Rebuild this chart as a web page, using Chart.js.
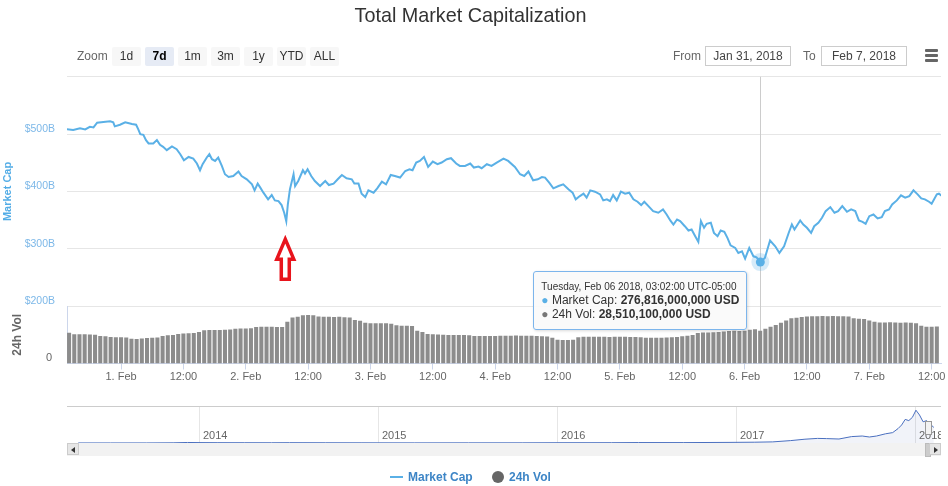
<!DOCTYPE html>
<html>
<head>
<meta charset="utf-8">
<script src="https://cdn.jsdelivr.net/npm/chart.js@4.4.1/dist/chart.umd.min.js"></script>
<style>
  body { margin: 0; background: #fff; font-family: "Liberation Sans", Arial, sans-serif; }
  #wrap { position: relative; width: 948px; height: 486px; overflow: hidden; }
  #main { position: absolute; left: 0; top: 0; }
  #navbox { position: absolute; left: 67px; top: 406px; width: 874px; height: 37px; border-top: 1px solid #cccccc; }
  #nav { position: absolute; left: 0; top: 0; }
  .zoomlbl { position: absolute; left: 77px; top: 48px; font-size: 12px; color: #666; line-height: 16px; }
  .btn { position: absolute; top: 47px; width: 29px; height: 19px; line-height: 19px; font-size: 12px;
         color: #333; background: #f7f7f7; text-align: center; border-radius: 2px; }
  .btn.on { background: #e6ebf5; color: #000; font-weight: bold; }
  .rlbl { position: absolute; top: 48px; font-size: 12px; color: #666; line-height: 16px; }
  .date { position: absolute; top: 46px; width: 84px; height: 18px; line-height: 18px; border: 1px solid #cccccc;
          font-size: 12px; color: #444; text-align: center; }
  .burger { position: absolute; left: 925px; width: 13px; height: 3px; background: #666; border-radius: 1px; }
  #scroll { position: absolute; left: 67px; top: 443px; width: 874px; height: 13px; background: #f2f2f2; }
  .sbtn { position: absolute; top: 0; width: 12px; height: 12px; background: #e6e6e6; border: 1px solid #cccccc; box-sizing: border-box; }
  .sbtn i { position: absolute; top: 3px; width: 0; height: 0; border-top: 3px solid transparent; border-bottom: 3px solid transparent; }
  #thumb { position: absolute; left: 858px; top: 0; width: 4px; height: 12px; background: #cccccc; border: 1px solid #bbb; }
  #handle { position: absolute; left: 858px; top: 14px; width: 7px; height: 14px; background: #f2f2f2; border: 1px solid #999; box-sizing: border-box; }
  #legend { position: absolute; top: 469px; left: 0; width: 948px; height: 16px; font-size: 12px; font-weight: bold; color: #3d85c6; }
  #tip { position: absolute; display: none; background: rgba(250,250,250,0.9); border: 1px solid #7cb5ec; border-radius: 3px;
         padding: 8px 7px; box-shadow: 1px 1px 3px rgba(0,0,0,0.15); color: #333; white-space: nowrap; }
  #tip .hd { font-size: 10px; line-height: 13px; }
  #tip .row { font-size: 12px; line-height: 14px; }
</style>
</head>
<body>
<div id="wrap">
  <canvas id="main" width="948" height="486"></canvas>

  <div class="zoomlbl">Zoom</div>
  <div class="btn" style="left:112px">1d</div>
  <div class="btn on" style="left:145px">7d</div>
  <div class="btn" style="left:178px">1m</div>
  <div class="btn" style="left:211px">3m</div>
  <div class="btn" style="left:244px">1y</div>
  <div class="btn" style="left:277px">YTD</div>
  <div class="btn" style="left:310px">ALL</div>

  <div class="rlbl" style="left:673px">From</div>
  <div class="date" style="left:705px">Jan 31, 2018</div>
  <div class="rlbl" style="left:803px">To</div>
  <div class="date" style="left:821px">Feb 7, 2018</div>
  <div class="burger" style="top:49px"></div>
  <div class="burger" style="top:54px"></div>
  <div class="burger" style="top:59px"></div>

  <div id="navbox">
    <canvas id="nav" width="874" height="37"></canvas>
    <div id="handle"></div>
  </div>
  <div id="scroll">
    <div class="sbtn" style="left:0"><i style="left:3px;border-right:4px solid #333"></i></div>
    <div id="thumb"></div>
    <div class="sbtn" style="right:0"><i style="left:4px;border-left:4px solid #333"></i></div>
  </div>

  <div id="legend">
    <span style="position:absolute;left:390px;top:7px;width:13px;height:2px;background:#5ab0e6"></span>
    <span style="position:absolute;left:408px;top:0;line-height:16px">Market Cap</span>
    <span style="position:absolute;left:492px;top:2px;width:12px;height:12px;border-radius:6px;background:#666"></span>
    <span style="position:absolute;left:509px;top:0;line-height:16px">24h Vol</span>
  </div>

  <div id="tip"></div>
</div>

<script>
// market cap, billions USD; hours counted from Jan 31 2018 00:00 (UTC-05:00)
const capHours = [13.5,14.8,16.1,17.1,18.0,18.7,19.4,20.6,21.9,22.5,
  22.8,23.8,24.8,26.1,26.9,27.3,27.7,28.3,28.8,29.3,
  30.2,30.9,31.5,32.1,32.8,33.8,34.7,35.4,36.1,37.0,
  37.9,38.6,39.2,39.7,40.5,41.0,41.5,42.1,42.7,43.4,
  44.0,44.7,45.6,46.6,47.2,48.2,49.2,49.7,50.3,50.8,
  51.4,52.3,53.0,53.6,54.3,54.9,55.4,55.8,56.1,56.5,
  57.2,57.5,58.1,59.0,59.4,59.9,60.6,61.3,62.3,63.3,
  64.0,64.9,65.7,66.5,67.4,68.4,68.9,69.7,70.3,71.0,
  71.6,72.6,73.3,74.2,75.0,75.9,76.7,77.7,78.7,79.5,
  80.1,80.8,81.5,82.3,83.1,84.0,84.9,85.7,86.7,87.5,
  88.5,89.2,90.2,91.2,91.9,92.8,93.4,94.4,95.3,96.3,
  97.6,98.5,99.8,100.8,101.6,102.4,103.3,104.2,105.0,105.6,
  106.4,107.2,108.2,109.1,110.1,110.9,111.5,112.3,113.0,113.6,
  114.3,115.2,116.2,116.8,117.5,118.1,118.7,119.4,120.2,121.0,
  121.8,122.6,123.4,124.1,124.7,125.5,126.4,127.4,128.3,129.0,
  129.7,130.3,131.0,131.6,132.5,133.2,133.8,134.5,135.1,135.6,
  136.2,136.7,137.5,138.1,138.8,139.4,140.1,140.7,141.3,142.2,
  142.8,143.5,144.1,144.9,145.7,146.3,147.0333,147.9,148.9,149.9,
  150.7,151.6,152.5,153.1,153.6,154.0,154.7,155.3,156.0,156.8,
  157.4,158.2,158.9,159.6,160.5,161.3,162.0,162.8,163.7,164.5,
  165.3,166.0,166.7,167.3,168.0,168.8,169.6,170.4,171.0,171.8,
  172.4,173.3,174.1,174.9,175.7,176.5,177.3,178.0,178.7,179.5,
  180.0,181.0,181.4,182.0];
const capValues = [508.8,507.0,510.0,508.2,512.8,511.7,519.8,521.0,522.2,520.5,
  513.5,516.3,520.5,517.5,516.3,508.8,500.0,498.8,489.5,483.7,
  483.7,489.5,481.3,477.8,472.0,478.5,473.7,465.0,454.5,460.2,
  457.4,448.7,437.0,447.5,459.2,465.0,456.2,453.2,459.2,444.5,
  430.0,425.2,427.0,434.7,427.0,421.2,412.4,401.9,413.7,406.7,
  397.9,386.2,393.7,384.4,383.2,376.2,362.9,348.2,377.4,403.7,
  430.0,409.5,418.2,437.0,431.2,438.7,427.0,418.2,409.5,418.2,
  411.2,413.7,421.2,428.7,422.9,421.2,413.7,413.7,396.1,390.2,
  401.9,397.9,405.4,417.2,412.4,428.7,427.0,424.2,435.7,438.7,
  437.0,450.4,453.2,460.2,442.7,452.2,447.5,450.4,456.2,458.0,
  448.7,444.5,444.5,448.7,441.7,443.4,440.5,447.5,444.5,450.4,
  457.4,453.2,442.7,430.0,427.0,434.7,419.4,421.2,425.2,424.2,
  415.4,405.4,409.5,412.4,403.7,397.9,386.2,392.0,396.1,389.1,
  401.9,399.6,394.9,384.4,386.2,383.2,393.7,384.4,399.6,396.1,
  397.9,386.2,382.1,376.2,382.1,374.4,365.7,362.9,368.7,359.9,
  349.4,342.4,351.1,348.2,339.4,331.9,333.6,321.9,312.1,348.2,
  336.6,343.6,345.4,327.8,321.9,331.9,329.6,319.1,306.1,301.6,
  292.8,295.6,282.8,301.6,286.9,285.1,276.816,284.1,314.4,304.4,
  292.8,304.4,328.0,342.4,333.6,339.4,349.4,342.4,336.6,327.8,
  339.4,345.4,354.1,365.7,372.7,362.9,365.7,374.4,364.6,368.7,
  365.7,349.4,347.1,343.6,356.9,359.9,352.9,355.2,365.7,368.7,
  377.4,384.4,393.2,389.1,391.9,401.9,394.9,387.9,386.2,382.1,
  378.6,394.9,396.1,391.9];

// 24h volume, billions USD, one bar per hour from hour 14
const volStartHour = 14;
const volValues = [26.8,
  25.6,25.4,25.4,25.2,25.0, 24.0,23.8, 23.0,22.8,22.8,22.6, 21.6,21.3,
  21.8,22.2,22.4,22.6, 24.0,24.6,24.8, 25.8,26.2,26.3,26.5,27.5,
  29.0,29.1,29.1,29.3,29.5,29.6, 30.4,30.6,30.6,30.8, 31.8,32.0,32.0,32.0,31.8,31.8,
  36.3, 40.2,40.7, 42.0,42.2,42.0, 41.0,40.7,40.7,40.5,40.7,40.4,40.0, 38.0,37.2,
  35.5,35.0,35.0,35.2,35.0,34.6, 33.4,33.0,32.9,32.6, 28.5,27.5, 25.8,25.4,25.2,
  25.0,24.8,24.8,24.9,24.8,24.6, 24.0,23.9,23.9,24.0,24.0,
  24.2,24.3,24.2,24.4,24.3,24.2,24.2,24.0,23.8,23.5,22.5, 20.8,20.4,20.4,20.6,
  22.8,23.3,23.3,23.4,23.3,23.3,23.2,23.3,23.4,23.3,23.2,23.0,22.8,
  22.5,22.4,22.4,22.5,22.6,22.8,23.2,23.8,24.3,24.8, 26.5,27.0,27.1,27.2,27.4,
  28.0,28.3,28.5,28.3,28.6, 29.5,29.8,28.5101,30.2, 32.0,33.5,35.5,37.5, 39.5,39.8,
  40.5,41.0,41.3,41.3,41.4,41.3,41.5,41.3,41.2,41.0, 39.5,39.0,38.7, 37.5,36.5,
  35.8,35.8,36.0,35.8,35.6,35.8,35.5,35.2, 33.0,32.0,32.0,32.2];

const xTickHours = [24, 36, 48, 60, 72, 84, 96, 108, 120, 132, 144, 156, 168, 180];
const xTickLabels = ['1. Feb', '12:00', '2. Feb', '12:00', '3. Feb', '12:00', '4. Feb',
  '12:00', '5. Feb', '12:00', '6. Feb', '12:00', '7. Feb', '12:00'];
const capTicks = [200, 300, 400, 500, 600];
const capTickLabels = ['$200B', '$300B', '$400B', '$500B', ''];

// navigator: whole history, billions USD by year
const navYears = [2013.32, 2013.5, 2013.7, 2013.85, 2013.93, 2014.0, 2014.1, 2014.25, 2014.4, 2014.5,
  2014.7, 2014.9, 2015.0, 2015.2, 2015.5, 2015.8, 2016.0, 2016.3, 2016.45, 2016.7,
  2016.95, 2017.1, 2017.2, 2017.3, 2017.38, 2017.45, 2017.5, 2017.57, 2017.64, 2017.7,
  2017.74, 2017.78, 2017.83, 2017.87, 2017.9, 2017.92, 2017.94, 2017.96, 2017.98, 2018.0,
  2018.02, 2018.04, 2018.06, 2018.08, 2018.1];
const navCaps = [1.5, 1.2, 1.6, 5, 13, 10, 8, 7, 6, 8,
  6, 5, 4, 3.5, 4, 4.5, 7, 7.5, 11, 10,
  15, 20, 28, 60, 95, 115, 110, 100, 160, 175,
  150, 175, 230, 260, 360, 450, 590, 560, 640, 820,
  700, 530, 560, 470, 390];
const navYearTicks = [2014, 2015, 2016, 2017, 2018];

const hoverHour = 147.0333;
const dipHour = 55.8;

Chart.defaults.font.family = '"Liberation Sans", Arial, sans-serif';
const capColor = '#5ab0e6';

const crosshair = {
  id: 'crosshair',
  beforeDatasetsDraw(chart) {
    const act = chart.getActiveElements();
    if (!act.length) return;
    const x = Math.round(act[0].element.x) + 0.5;
    const ctx = chart.ctx;
    ctx.save();
    ctx.strokeStyle = '#cccccc';
    ctx.lineWidth = 1;
    ctx.beginPath();
    ctx.moveTo(x, chart.chartArea.top);
    ctx.lineTo(x, chart.chartArea.bottom);
    ctx.stroke();
    ctx.restore();
  }
};

// red outlined arrow pointing at the dip
const arrow = {
  id: 'arrow',
  afterDatasetsDraw(chart) {
    const i = capHours.indexOf(dipHour);
    const x = chart.scales.x.getPixelForValue(dipHour) - 1;
    const y = chart.scales.yCap.getPixelForValue(capValues[i]) + 18;
    const ctx = chart.ctx;
    ctx.save();
    ctx.beginPath();
    ctx.moveTo(x, y);
    ctx.lineTo(x + 8.5, y + 20);
    ctx.lineTo(x + 4, y + 20);
    ctx.lineTo(x + 4, y + 40);
    ctx.lineTo(x - 4, y + 40);
    ctx.lineTo(x - 4, y + 20);
    ctx.lineTo(x - 8.5, y + 20);
    ctx.closePath();
    ctx.fillStyle = '#ffffff';
    ctx.fill();
    ctx.strokeStyle = '#e8141c';
    ctx.lineWidth = 3.5;
    ctx.lineJoin = 'miter';
    ctx.stroke();
    ctx.restore();
  }
};

// year labels sit inside the navigator, just right of each year line
const navLabels = {
  id: 'navLabels',
  afterDraw(chart) {
    const xs = chart.scales.x;
    const ctx = chart.ctx;
    ctx.save();
    ctx.font = '11px "Liberation Sans", Arial, sans-serif';
    ctx.fillStyle = '#666666';
    ctx.textBaseline = 'middle';
    navYearTicks.forEach(y => ctx.fillText(String(y), xs.getPixelForValue(y) + 3, chart.chartArea.bottom - 8));
    ctx.restore();
  }
};

function fmtNum(b) {
  return Math.round(b * 1e9).toLocaleString('en-US');
}

function fmtDate(h) {
  const days = ['Sunday','Monday','Tuesday','Wednesday','Thursday','Friday','Saturday'];
  const mons = ['Jan','Feb','Mar','Apr','May','Jun','Jul','Aug','Sep','Oct','Nov','Dec'];
  const d = new Date(Date.UTC(2018, 0, 31) + Math.round(h * 60) * 60000);
  const p = n => String(n).padStart(2, '0');
  return days[d.getUTCDay()] + ', ' + mons[d.getUTCMonth()] + ' ' + p(d.getUTCDate()) + ' ' + d.getUTCFullYear() +
    ', ' + p(d.getUTCHours()) + ':' + p(d.getUTCMinutes()) + ':' + p(d.getUTCSeconds()) + ' UTC-05:00';
}

function externalTip(context) {
  const tt = context.tooltip;
  const el = document.getElementById('tip');
  if (!tt.dataPoints || !tt.dataPoints.length) { el.style.display = 'none'; return; }
  const cap = tt.dataPoints.find(d => d.datasetIndex === 0);
  const vol = tt.dataPoints.find(d => d.datasetIndex === 1);
  el.innerHTML =
    '<div class="hd">' + fmtDate(cap.parsed.x) + '</div>' +
    '<div class="row"><span style="color:' + capColor + '">\u25CF</span> Market Cap: <b>' + fmtNum(cap.parsed.y) + ' USD</b></div>' +
    '<div class="row"><span style="color:#777">\u25CF</span> 24h Vol: <b>' + fmtNum(vol.parsed.y) + ' USD</b></div>';
  el.style.display = 'block';
  const px = cap.element.x, py = cap.element.y;
  el.style.left = (px - 13 - el.offsetWidth) + 'px';
  el.style.top = (py + 9) + 'px';
}

const chart = new Chart(document.getElementById('main'), {
  type: 'line',
  data: {
    datasets: [{
      type: 'line',
      label: 'Market Cap',
      data: capHours.map((h, i) => ({x: h, y: capValues[i]})),
      yAxisID: 'yCap',
      borderColor: capColor,
      borderWidth: 2,
      tension: 0,
      pointRadius: 0,
      pointHoverRadius: 4.5,
      pointBackgroundColor: capColor,
      pointHoverBackgroundColor: capColor,
      pointHoverBorderColor: 'rgba(90,176,230,0.25)',
      pointHoverBorderWidth: 9
    }, {
      type: 'bar',
      label: '24h Vol',
      data: volValues.map((v, i) => ({x: volStartHour + i, y: v})),
      yAxisID: 'yVol',
      backgroundColor: '#8c8c8c',
      hoverBackgroundColor: '#8c8c8c',
      borderWidth: 0,
      barPercentage: 0.78,
      categoryPercentage: 1
    }]
  },
  options: {
    responsive: false,
    animation: false,
    events: [],
    layout: {padding: {left: 0, right: 7, top: 0, bottom: 102.5}},
    plugins: {
      legend: {display: false},
      title: {
        display: true,
        text: 'Total Market Capitalization',
        color: '#333333',
        font: {size: 19.8, weight: 'normal'},
        padding: {top: 5, bottom: 48}
      },
      tooltip: {enabled: false, external: externalTip}
    },
    scales: {
      x: {
        type: 'linear',
        min: 13.6,
        max: 181.8,
        offset: false,
        afterBuildTicks: s => { s.ticks = xTickHours.map(v => ({value: v})); },
        afterFit: s => { s.height = 20; },
        grid: {display: true, offset: false, drawOnChartArea: false, drawTicks: true, tickLength: 6, color: '#ccd6eb'},
        border: {display: true, color: '#ccd6eb'},
        ticks: {
          autoSkip: false, maxRotation: 0, padding: 1, color: '#666666', font: {size: 11},
          callback: (v, i) => xTickLabels[i]
        }
      },
      yVol: {
        type: 'linear',
        position: 'left',
        stack: 'panes',
        stackWeight: 1,
        min: 0,
        max: 50,
        afterBuildTicks: s => { s.ticks = [{value: 0}]; },
        afterFit: s => { s.width = 67; },
        grid: {display: false, drawTicks: false},
        border: {display: true, color: '#ccd6eb'},
        ticks: {padding: 15, labelOffset: -6, color: '#666666', font: {size: 11}, callback: () => '0'},
        title: {display: true, text: '24h Vol', color: '#666666', font: {size: 12, weight: 'bold'}, padding: {top: 10, bottom: 0}}
      },
      yCap: {
        type: 'linear',
        position: 'left',
        stack: 'panes',
        stackWeight: 4,
        min: 200,
        max: 600,
        afterBuildTicks: s => { s.ticks = capTicks.map(v => ({value: v})); },
        afterFit: s => { s.width = 67; },
        grid: {color: '#e6e6e6', drawTicks: false},
        border: {display: false},
        ticks: {
          padding: 12, labelOffset: -5, color: '#7db8e8', font: {size: 10.5},
          callback: (v, i) => capTickLabels[i]
        },
        title: {display: true, text: 'Market Cap', color: '#52ace6', font: {size: 11, weight: 'bold'}, padding: {top: 1, bottom: 0}}
      }
    }
  },
  plugins: [crosshair, arrow]
});

const hi = capHours.indexOf(hoverHour);
const vi = Math.round(hoverHour) - volStartHour;
const active = [{datasetIndex: 0, index: hi}, {datasetIndex: 1, index: vi}];
chart.setActiveElements(active);
chart.tooltip.setActiveElements(active, {x: 0, y: 0});
chart.update();

new Chart(document.getElementById('nav'), {
  type: 'line',
  data: {
    datasets: [{
      data: navYears.map((y, i) => ({x: y, y: navCaps[i]})),
      borderColor: '#4a6fbf',
      borderWidth: 1,
      backgroundColor: 'rgba(51,92,173,0.07)',
      fill: 'origin',
      pointRadius: 0,
      tension: 0
    }]
  },
  options: {
    responsive: false,
    animation: false,
    events: [],
    layout: {padding: 0},
    plugins: {legend: {display: false}, tooltip: {enabled: false}},
    scales: {
      x: {
        type: 'linear',
        min: 2013.257,
        max: 2018.14,
        afterBuildTicks: s => { s.ticks = navYearTicks.map(v => ({value: v})); },
        afterFit: s => { s.height = 0; },
        grid: {color: '#e6e6e6', drawTicks: false},
        border: {display: false},
        ticks: {display: false}
      },
      y: {display: false, min: -25, max: 900}
    }
  },
  plugins: [navLabels]
});
</script>
</body>
</html>
